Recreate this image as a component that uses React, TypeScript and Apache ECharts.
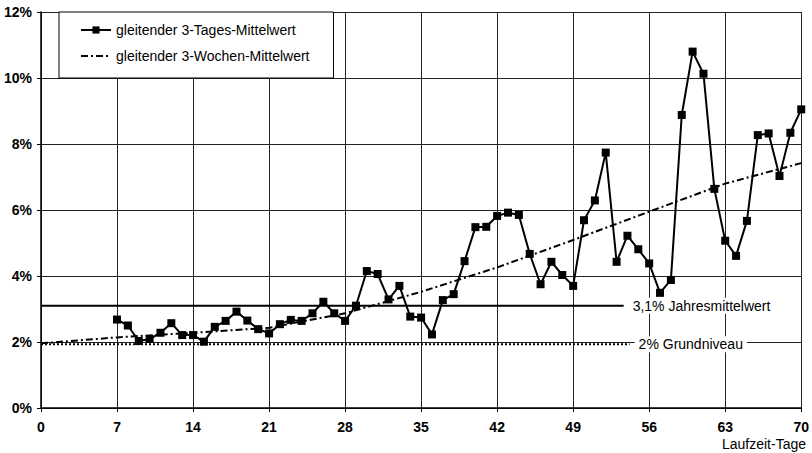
import React, { useEffect, useRef } from "react";
import * as echarts from "echarts";

const FONT = "'Liberation Sans', Arial, Helvetica, sans-serif";

const seriesNames = ["gleitender 3-Tages-Mittelwert", "gleitender 3-Wochen-Mittelwert"];

// days 7..70
const dailyDays = [
  7, 8, 9, 10, 11, 12, 13, 14, 15, 16, 17, 18, 19, 20, 21, 22, 23, 24, 25, 26, 27, 28,
  29, 30, 31, 32, 33, 34, 35, 36, 37, 38, 39, 40, 41, 42, 43, 44, 45, 46, 47, 48, 49,
  50, 51, 52, 53, 54, 55, 56, 57, 58, 59, 60, 61, 62, 63, 64, 65, 66, 67, 68, 69, 70,
];
const dailyValues = [
  2.68, 2.5, 2.03, 2.09, 2.28, 2.57, 2.21, 2.21, 2.01, 2.46, 2.64, 2.92, 2.65, 2.39, 2.26,
  2.54, 2.67, 2.64, 2.87, 3.22, 2.87, 2.64, 3.1, 4.15, 4.06, 3.29, 3.7, 2.77, 2.74, 2.23,
  3.27, 3.45, 4.45, 5.48, 5.49, 5.82, 5.92, 5.85, 4.67, 3.75, 4.43, 4.03, 3.7, 5.69, 6.29,
  7.74, 4.43, 5.22, 4.81, 4.38, 3.49, 3.88, 8.88, 10.8, 10.13, 6.64, 5.07, 4.61, 5.67,
  8.27, 8.32, 7.03, 8.34, 9.05,
];

const trendDays = [0, 7, 14, 21, 28, 35, 42, 49, 56, 63, 70];
const trendValues = [1.96, 2.14, 2.28, 2.43, 2.87, 3.52, 4.26, 5.09, 5.95, 6.8, 7.42];

const yearMeanLabel = "3,1% Jahresmittelwert";
const yearMeanValue = 3.1;
const yearMeanEndDay = 53.65;
const baseLabel = "2% Grundniveau";
const baseValue = 1.93;
const baseEndDay = 54.2;

const xAxisName = "Laufzeit-Tage";

export default function App() {
  const ref = useRef<HTMLDivElement>(null);
  useEffect(() => {
    if (!ref.current) return;
    const chart = echarts.init(ref.current, undefined, { renderer: "svg" });
    const endLabel = (text: string) => ({
      show: true,
      formatter: text,
      distance: 5,
      color: "#000",
      fontSize: 14,
      fontFamily: FONT,
      backgroundColor: "#fff",
      padding: [1, 4, 1, 4],
    });
    chart.setOption({
      animation: false,
      backgroundColor: "#fff",
      textStyle: { fontFamily: FONT },
      grid: { left: 41, right: 10, top: 12, bottom: 45, containLabel: false },
      legend: {
        data: [
          { name: seriesNames[0] },
          { name: seriesNames[1], itemStyle: { opacity: 0 } },
        ],
        orient: "vertical",
        left: 59,
        top: 12,
        padding: [11, 24, 15, 21],
        itemGap: 12,
        itemWidth: 30,
        itemHeight: 9,
        borderColor: "#000",
        borderWidth: 1,
        borderRadius: 0,
        backgroundColor: "#fff",
        textStyle: { fontSize: 14, color: "#000", fontFamily: FONT },
      },
      xAxis: {
        type: "value",
        min: 0,
        max: 70,
        interval: 7,
        axisLine: { show: true, lineStyle: { color: "#000", width: 1.5 } },
        axisTick: { show: true, length: 4, lineStyle: { color: "#000" } },
        axisLabel: { color: "#000", fontSize: 14, fontWeight: "bold", margin: 12, fontFamily: FONT },
        splitLine: { show: true, lineStyle: { color: "#222", width: 1 } },
      },
      yAxis: {
        type: "value",
        min: 0,
        max: 12,
        interval: 2,
        axisLine: { show: true, lineStyle: { color: "#000", width: 1.5 } },
        axisTick: { show: true, length: 4, lineStyle: { color: "#000" } },
        axisLabel: {
          color: "#000",
          fontSize: 14,
          fontWeight: "bold",
          margin: 9,
          fontFamily: FONT,
          formatter: "{value}%",
        },
        splitLine: { show: true, lineStyle: { color: "#222", width: 1 } },
      },
      series: [
        {
          name: yearMeanLabel,
          type: "line",
          data: [
            [0, yearMeanValue],
            [yearMeanEndDay, yearMeanValue],
          ],
          symbol: "none",
          silent: true,
          lineStyle: { color: "#000", width: 2 },
          endLabel: endLabel(yearMeanLabel),
          z: 1,
        },
        {
          name: baseLabel,
          type: "line",
          data: [
            [0, baseValue],
            [baseEndDay, baseValue],
          ],
          symbol: "none",
          silent: true,
          lineStyle: { color: "#000", width: 2, type: [2, 2] },
          endLabel: endLabel(baseLabel),
          z: 1,
        },
        {
          name: seriesNames[1],
          type: "line",
          data: trendDays.map((d, i) => [d, trendValues[i]]),
          symbol: "none",
          smooth: false,
          lineStyle: { color: "#000", width: 2, type: [7, 3, 2, 3] },
          itemStyle: { color: "#000" },
          z: 2,
        },
        {
          name: seriesNames[0],
          type: "line",
          data: dailyDays.map((d, i) => [d, dailyValues[i]]),
          symbol: "rect",
          symbolSize: 8,
          lineStyle: { color: "#000", width: 2 },
          itemStyle: { color: "#000" },
          z: 3,
        },
      ],
      graphic: [
        {
          type: "text",
          right: 6,
          top: 437,
          style: { text: xAxisName, fontSize: 14, fill: "#000", fontFamily: FONT },
        },
      ],
    });
    return () => chart.dispose();
  }, []);
  return (
    <div
      ref={ref}
      style={{ position: "fixed", left: 0, top: 0, width: 812, height: 453 }}
    />
  );
}
